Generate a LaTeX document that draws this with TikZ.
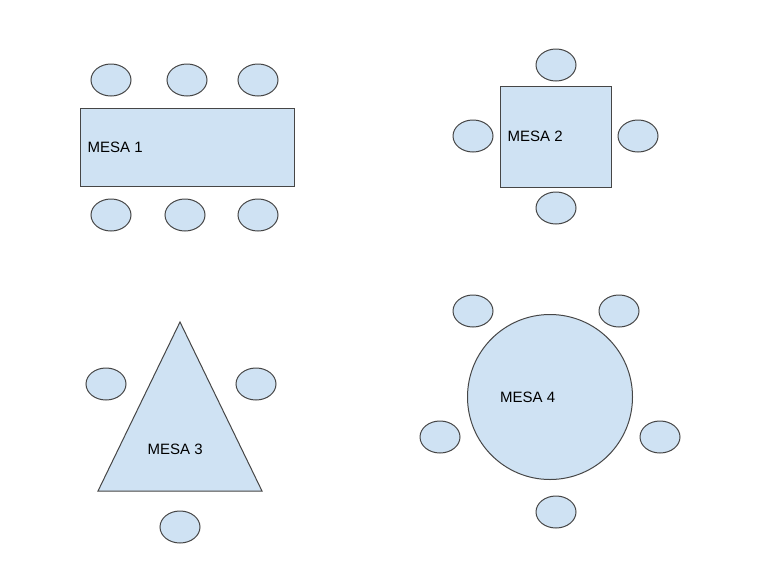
\documentclass[tikz,border=0pt]{standalone}
\usepackage{fontspec}
\setmainfont{Liberation Sans}
\definecolor{mesaazul}{RGB}{207, 226, 243}
\definecolor{borde}{RGB}{70, 70, 70}
\usetikzlibrary{shapes.geometric, positioning}

\begin{document}
\begin{tikzpicture}[
  x=1pt, y=-1pt,
  mesa/.style={draw=borde, fill=mesaazul, line width=1pt, inner sep=0pt},
  silla/.style={ellipse, draw=borde, fill=mesaazul, line width=1pt, inner sep=0pt, minimum width=40pt, minimum height=32pt},
  etiqueta/.style={inner sep=0pt, font=\fontsize{15}{18}\selectfont}
]
  \useasboundingbox (0,0) rectangle (757,573);
  \fill[white] (0,0) rectangle (757,573);

  % mesa 1
  \node[mesa, minimum width=214pt, minimum height=78pt] (m1) at (187,147) {};
  \node[etiqueta, right=8pt of m1.west] (t1) {MESA 1};
  \node[silla] (s11) at (111,80) {};
  \node[silla] (s12) at (187,80) {};
  \node[silla] (s13) at (258,80) {};
  \node[silla] (s14) at (111,215) {};
  \node[silla] (s15) at (185,215) {};
  \node[silla] (s16) at (258,215) {};

  % mesa 2
  \node[mesa, minimum width=111pt, minimum height=101pt] (m2) at (555.5,136.5) {};
  \node[etiqueta, right=8pt of m2.west] (t2) {MESA 2};
  \node[silla] (s21) at (556,65) {};
  \node[silla] (s22) at (556,208) {};
  \node[silla] (s23) at (473,136) {};
  \node[silla] (s24) at (638,136) {};

  % mesa 3
  \coordinate (m3a) at (180,322);
  \coordinate (m3b) at (98,491);
  \coordinate (m3c) at (262,491);
  \draw[mesa] (m3a) -- (m3b) -- (m3c) -- cycle;
  \node[etiqueta, anchor=west] (t3) at (147.5,449) {MESA 3};
  \node[silla] (s31) at (106,384) {};
  \node[silla] (s32) at (256,384) {};
  \node[silla] (s33) at (180,527) {};

  % mesa 4
  \node[mesa, circle, minimum size=165pt] (m4) at (550,397) {};
  \node[etiqueta, anchor=west] (t4) at (500,397.5) {MESA 4};
  \node[silla] (s41) at (473,311) {};
  \node[silla] (s42) at (619,311) {};
  \node[silla] (s43) at (440,437) {};
  \node[silla] (s44) at (660,437) {};
  \node[silla] (s45) at (556,512) {};
\end{tikzpicture}
\end{document}
